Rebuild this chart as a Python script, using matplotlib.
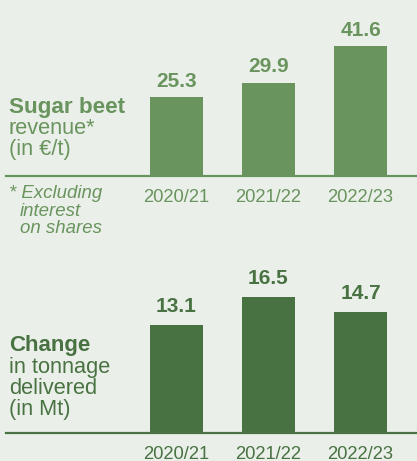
import matplotlib.pyplot as plt

plt.rcParams["font.family"] = ["Liberation Sans", "DejaVu Sans"]

seasons = ["2020/21", "2021/22", "2022/23"]
revenue = [25.3, 29.9, 41.6]
tonnage = [13.1, 16.5, 14.7]

W, H = 417, 461
bg = "#EAF0E9"
light_green = "#6A945E"
dark_green = "#497242"

fig = plt.figure(figsize=(W / 100, H / 100), dpi=100, facecolor=bg)


def px(x, y):
    # pixel position -> figure fraction
    return x / W, 1 - y / H


def make_axes(base_px, top_px, ymax, values, color, pad):
    ax = fig.add_axes([6 / W, 1 - base_px / H, 411 / W, (base_px - top_px) / H])
    ax.set_facecolor("none")
    pos = range(len(seasons))
    bars = ax.bar(pos, values, width=0.576, color=color)
    ax.bar_label(bars, labels=[f"{v:.1f}" for v in values], padding=pad,
                 fontsize=15, fontweight="bold", color=color)
    ax.set_xlim(-1.853, 2.614)
    ax.set_ylim(0, ymax)
    ax.set_xticks(list(pos))
    ax.set_xticklabels(seasons, fontsize=13.2, color=color)
    ax.tick_params(axis="x", length=0, pad=9)
    ax.set_yticks([])
    for s in ["top", "left", "right"]:
        ax.spines[s].set_visible(False)
    ax.spines["bottom"].set_color(color)
    ax.spines["bottom"].set_linewidth(1.6)
    return ax


make_axes(176, 0, 176 / 3.124, revenue, light_green, 4.5)
make_axes(433, 200, 233 / 8.252, tonnage, dark_green, 6.5)

# left side labels
fig.text(*px(9, 107), "Sugar beet", fontsize=16.2, fontweight="bold",
         color=light_green, va="center")
fig.text(*px(9, 128), "revenue*", fontsize=15.7, color=light_green, va="center")
fig.text(*px(9, 150), "(in €/t)", fontsize=15.7, color=light_green, va="center")

fig.text(*px(9, 193), "* Excluding", fontsize=13.4, style="italic",
         color=light_green, va="center")
fig.text(*px(20, 211), "interest", fontsize=13.4, style="italic",
         color=light_green, va="center")
fig.text(*px(20, 228), "on shares", fontsize=13.4, style="italic",
         color=light_green, va="center")

fig.text(*px(9, 345), "Change", fontsize=16, fontweight="bold",
         color=dark_green, va="center")
fig.text(*px(9, 367), "in tonnage", fontsize=15.7, color=dark_green, va="center")
fig.text(*px(9, 388), "delivered", fontsize=15.7, color=dark_green, va="center")
fig.text(*px(9, 409), "(in Mt)", fontsize=15.7, color=dark_green, va="center")

plt.savefig("out.png", dpi=100, facecolor=bg)
